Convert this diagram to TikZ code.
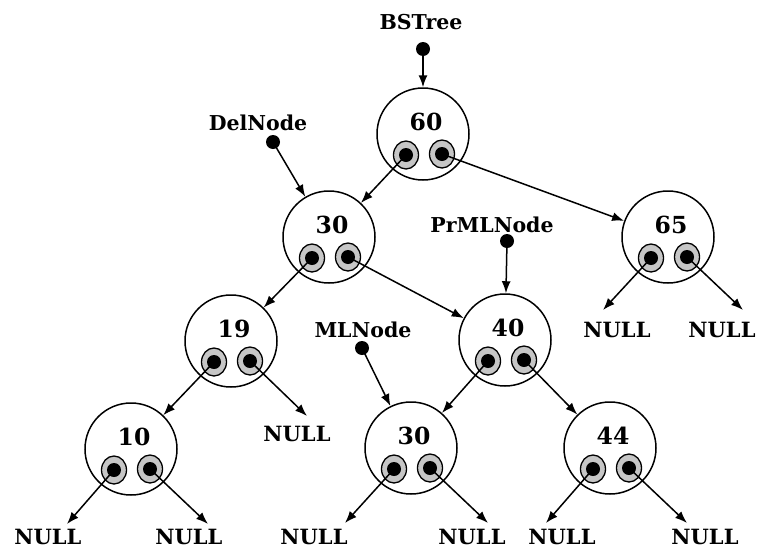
\documentclass[tikz,border=0pt]{standalone}
\usepackage{fontspec}
\setmainfont{DejaVu Serif}
\usetikzlibrary{arrows.meta,shapes.geometric}
\newcommand\treenode[4]{%
  \node[tnode] (#1) at (#2,#3) {};
  \node[valtxt] (#1v) at (#2+3,#3-12) {#4};
  \node[ptrshape] (#1pl) at (#2-17,#3+21) {};
  \node[ptrshape] (#1pr) at (#2+19,#3+20) {};
  \node[dotb] (#1l) at (#1pl.center) {};
  \node[dotb] (#1r) at (#1pr.center) {};
}
\begin{document}
\begin{tikzpicture}[x=1pt,y=-1pt,
  tnode/.style={circle,draw,line width=1.5pt,minimum size=92pt,inner sep=0pt},
  ptrshape/.style={ellipse,draw,fill=gray!45,line width=1.3pt,minimum width=25pt,minimum height=28pt,inner sep=0pt},
  dotb/.style={circle,fill=black,minimum size=14pt,inner sep=0pt},
  lbl/.style={font=\fontsize{20.5}{20.5}\selectfont\bfseries,inner sep=0pt},
  valtxt/.style={font=\fontsize{23.5}{23.5}\selectfont\bfseries,inner sep=0pt},
  nul/.style={font=\fontsize{21}{21}\selectfont\bfseries,inner sep=0pt},
  arr/.style={line width=1.5pt,-{Latex[length=12pt,width=9pt]}}]
\useasboundingbox (0,0) rectangle (761,552);
% tree nodes
\treenode{n60}{423}{134}{60}
\treenode{n30}{329}{237}{30}
\treenode{n65}{668}{237}{65}
\treenode{n19}{231}{341}{19}
\treenode{n40}{505}{340}{40}
\treenode{n10}{131}{449}{10}
\treenode{n30b}{411}{448}{30}
\treenode{n44}{610}{448}{44}
% labels
\node[lbl] (bst) at (421,22) {BSTree};
\node[dotb] (bstd) at (423,49) {};
\node[lbl] (del) at (258,123) {DelNode};
\node[dotb] (deld) at (273,142) {};
\node[lbl] (prml) at (492,225) {PrMLNode};
\node[dotb] (prmld) at (507,241) {};
\node[lbl] (ml) at (363,330) {MLNode};
\node[dotb] (mld) at (362,348) {};
% NULL labels
\node[nul] (u65a) at (617,330) {NULL};
\node[nul] (u65b) at (722,330) {NULL};
\node[nul] (u19b) at (297,434) {NULL};
\node[nul] (u10a) at (48,537) {NULL};
\node[nul] (u10b) at (189,537) {NULL};
\node[nul] (u30a) at (314,537) {NULL};
\node[nul] (u30b) at (472,537) {NULL};
\node[nul] (u44a) at (562,537) {NULL};
\node[nul] (u44b) at (705,537) {NULL};
% arrow tips toward NULL
\coordinate (t65a) at (603,310);
\coordinate (t65b) at (743,310);
\coordinate (t19b) at (307,416);
\coordinate (t10a) at (67,524);
\coordinate (t10b) at (208,524);
\coordinate (t30a) at (345,523);
\coordinate (t30b) at (488,523);
\coordinate (t44a) at (546,523);
\coordinate (t44b) at (687,523);
% connectors
\draw[arr] (bstd.center) -- (n60);
\draw[arr] (deld.center) -- (n30);
\draw[arr] (prmld.center) -- (n40);
\draw[arr] (mld.center) -- (n30b);
\draw[arr] (n60l.center) -- (n30);
\draw[arr] (n60r.center) -- (n65);
\draw[arr] (n30l.center) -- (n19);
\draw[arr] (n30r.center) -- (n40);
\draw[arr] (n19l.center) -- (n10);
\draw[arr] (n40l.center) -- (n30b);
\draw[arr] (n40r.center) -- (n44);
\draw[arr] (n65l.center) -- (t65a);
\draw[arr] (n65r.center) -- (t65b);
\draw[arr] (n19r.center) -- (t19b);
\draw[arr] (n10l.center) -- (t10a);
\draw[arr] (n10r.center) -- (t10b);
\draw[arr] (n30bl.center) -- (t30a);
\draw[arr] (n30br.center) -- (t30b);
\draw[arr] (n44l.center) -- (t44a);
\draw[arr] (n44r.center) -- (t44b);
\end{tikzpicture}
\end{document}
